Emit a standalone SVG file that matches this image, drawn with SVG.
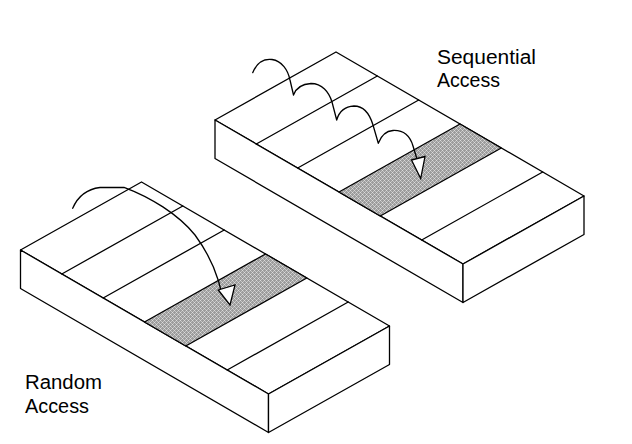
<svg xmlns="http://www.w3.org/2000/svg" width="632" height="444" viewBox="0 0 632 444">
  <defs>
    <pattern id="shade" width="4" height="4" patternUnits="userSpaceOnUse">
      <rect width="4" height="4" fill="#9c9c9c"/>
      <rect x="0" y="0" width="1" height="1" fill="#dcdcdc"/>
      <rect x="2" y="2" width="1" height="1" fill="#dcdcdc"/>
      <rect x="1" y="1" width="1" height="1" fill="#c4c4c4"/>
      <rect x="3" y="3" width="1" height="1" fill="#c4c4c4"/>
      <rect x="1" y="3" width="1" height="1" fill="#c4c4c4"/>
      <rect x="3" y="1" width="1" height="1" fill="#c4c4c4"/>
    </pattern>
  </defs>
  <style>
    .face { fill: #ffffff; stroke: #000000; stroke-width: 1.3; stroke-linejoin: round; }
    .edge { fill: none; stroke: #000000; stroke-width: 1.3; stroke-linecap: round; }
    .hot { fill: url(#shade); stroke: #000000; stroke-width: 1.3; stroke-linejoin: round; }
    .conn { fill: none; stroke: #000000; stroke-width: 1.3; stroke-linejoin: round; stroke-linecap: round; }
    .head { fill: #ffffff; stroke: #000000; stroke-width: 1.3; stroke-linejoin: miter; }
    .lbl { font-family: "Liberation Sans", Arial, sans-serif; font-size: 20px; fill: #000000; }
  </style>

  <rect width="632" height="444" fill="#ffffff"/>

  <!-- Sequential access block -->
  <g id="sequential-block">
    <polygon class="face" points="215,120 336,52 584,196 463,264"/>
    <polygon class="face" points="215,120 463,264 463,302.5 215,158.5"/>
    <polygon class="face" points="463,264 584,196 584,234.5 463,302.5"/>
    <polygon class="hot" points="339,192 460,124 501.3,148 380.3,216"/>
    <line class="edge" x1="256.3" y1="144" x2="377.3" y2="76"/>
    <line class="edge" x1="297.7" y1="168" x2="418.7" y2="100"/>
    <line class="edge" x1="421.7" y1="240" x2="542.7" y2="172"/>
  </g>

  <!-- Random access block -->
  <g id="random-block">
    <polygon class="face" points="20.5,250 141.5,182 389.5,326 268.5,394"/>
    <polygon class="face" points="20.5,250 268.5,394 268.5,432.5 20.5,288.5"/>
    <polygon class="face" points="268.5,394 389.5,326 389.5,364.5 268.5,432.5"/>
    <polygon class="hot" points="144.5,322 265.5,254 306.8,278 185.8,346"/>
    <line class="edge" x1="61.8" y1="274" x2="182.8" y2="206"/>
    <line class="edge" x1="103.2" y1="298" x2="224.2" y2="230"/>
    <line class="edge" x1="227.2" y1="370" x2="348.2" y2="302"/>
  </g>

  <!-- Connectors -->
  <g id="connectors">
    <path class="conn" d="M252.7,72.7 C257,62 264,58.5 272,59.5 C282,61 288,70 290,80 L293.5,95
                          C296,88 302,84 311,83.5 C322,83.5 329,92 332,102 L336.7,120
                          C339,112 345,106.5 354,106 C364,106 370,115 373,125 L378.3,143.3
                          C381,136 386,131 393,130.5 C403,130 410,136 413,146 L416.8,158.5"/>
    <polygon class="head" points="411.5,160 425,156.5 420.7,178.5"/>
    <path class="conn" d="M72.7,208.3 C78,196 88,189 100,187.5 L124,187.3
                          C150,197 178,214 195,235 C206,250 214,266 218.5,281 L220.7,289.5"/>
    <polygon class="head" points="218.3,290 235,285 230,305"/>
  </g>

  <g id="labels">
    <text class="lbl" x="437" y="64" textLength="99" lengthAdjust="spacingAndGlyphs">Sequential</text>
    <text class="lbl" x="437" y="86.5" textLength="63" lengthAdjust="spacingAndGlyphs">Access</text>
    <text class="lbl" x="25" y="389" textLength="77" lengthAdjust="spacingAndGlyphs">Random</text>
    <text class="lbl" x="25" y="413" textLength="64" lengthAdjust="spacingAndGlyphs">Access</text>
  </g>
</svg>
